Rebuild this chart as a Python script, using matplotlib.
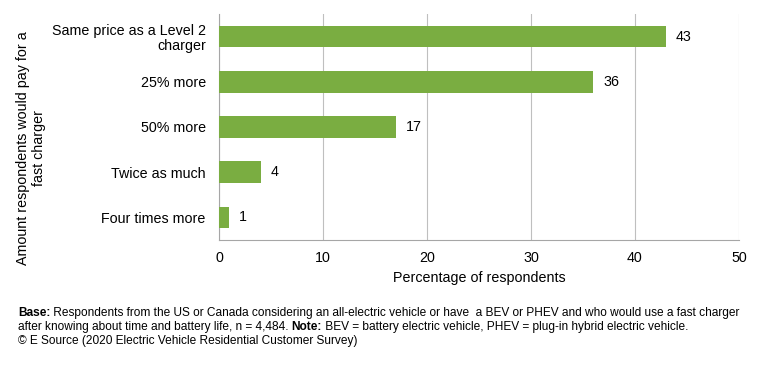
import matplotlib
matplotlib.use("Agg")
from matplotlib import pyplot as plt

plt.rcParams['font.family'] = ['Liberation Sans', 'DejaVu Sans']

categories = ['Same price as a Level 2\ncharger', '25% more', '50% more',
              'Twice as much', 'Four times more']
values = [43, 36, 17, 4, 1]
xticks = [0, 10, 20, 30, 40, 50]

green = '#7aad41'
grid_col = '#bfbfbf'

fig = plt.figure(figsize=(7.67, 3.67), dpi=100)
ax = fig.add_axes([0.2855, 0.346, 0.678, 0.616])

ypos = list(range(len(categories)))
ax.barh(ypos, values, height=0.48, color=green, zorder=3)
ax.set_ylim(len(categories) - 0.5, -0.5)
ax.set_xlim(0, 50)
ax.set_xticks(xticks)
ax.set_yticks(ypos)
ax.set_yticklabels(categories, fontsize=10.3, linespacing=1.05)
ax.tick_params(axis='both', length=0, labelsize=10.3, colors='black')
ax.tick_params(axis='x', pad=8)
ax.tick_params(axis='y', pad=9.5)
ax.grid(axis='x', color=grid_col, linewidth=0.8, zorder=0)
for s in ['top', 'right']:
    ax.spines[s].set_visible(False)
for s in ['left', 'bottom']:
    ax.spines[s].set_color('#a6a6a6')
    ax.spines[s].set_linewidth(0.8)

for y, v in zip(ypos, values):
    ax.text(v + 0.95, y, str(v), va='center', ha='left', fontsize=10.3)

ax.set_xlabel('Percentage of respondents', fontsize=10.3, labelpad=4)
fig.text(31 / 767, 1 - 148 / 367, 'Amount respondents would pay for a\nfast charger',
         rotation=90, fontsize=10.3, ha='center', va='center', linespacing=1.25)

# footnote, bold pieces drawn one after another
foot = [[('Base:', 'bold'), (' Respondents from the US or Canada considering an all-electric vehicle or have  a BEV or PHEV and who would use a fast charger', 'normal')],
        [('after knowing about time and battery life, n = 4,484. ', 'normal'), ('Note:', 'bold'), (' BEV = battery electric vehicle, PHEV = plug-in hybrid electric vehicle.', 'normal')],
        [('© E Source (2020 Electric Vehicle Residential Customer Survey)', 'normal')]]
renderer = fig.canvas.get_renderer()
for i, line in enumerate(foot):
    x = 18
    for txt, w in line:
        t = fig.text(x / 767, 1 - (313 + 14 * i) / 367, txt, fontsize=8.6,
                     fontweight=w, va='center', ha='left')
        x += t.get_window_extent(renderer).width

fig.savefig('out.png', dpi=100)
